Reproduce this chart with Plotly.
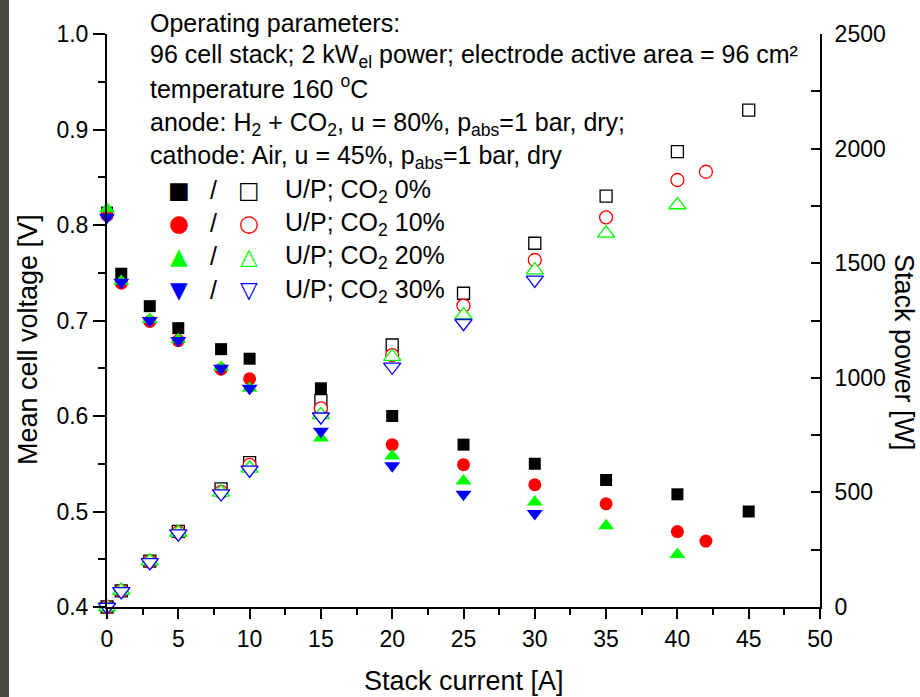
import plotly.graph_objects as go

# ---------------- data ----------------
current_co2_0 = [0, 1, 3, 5, 8, 10, 15, 20, 25, 30, 35, 40, 45]
voltage_co2_0 = [0.813, 0.749, 0.715, 0.692, 0.670, 0.660, 0.629, 0.600, 0.570, 0.550, 0.533, 0.518, 0.500]
power_co2_0 = [0, 70, 200, 330, 515, 630, 900, 1143, 1369, 1587, 1793, 1987, 2168]

current_co2_10 = [0, 1, 3, 5, 8, 10, 15, 20, 25, 30, 35, 40, 42]
voltage_co2_10 = [0.810, 0.739, 0.699, 0.679, 0.649, 0.639, 0.605, 0.570, 0.549, 0.528, 0.508, 0.479, 0.469]
power_co2_10 = [0, 70, 198, 325, 502, 620, 867, 1099, 1315, 1514, 1700, 1863, 1899]

current_co2_20 = [0, 1, 3, 5, 8, 10, 15, 20, 25, 30, 35, 40]
voltage_co2_20 = [0.817, 0.741, 0.701, 0.680, 0.651, 0.629, 0.577, 0.558, 0.532, 0.510, 0.485, 0.455]
power_co2_20 = [0, 72, 200, 325, 500, 605, 838, 1092, 1274, 1470, 1630, 1754]

current_co2_30 = [0, 1, 3, 5, 8, 10, 15, 20, 25, 30]
voltage_co2_30 = [0.808, 0.740, 0.700, 0.679, 0.650, 0.629, 0.584, 0.548, 0.518, 0.498]
power_co2_30 = [0, 68, 195, 320, 495, 598, 830, 1048, 1238, 1427]

series_names = ["0%", "10%", "20%", "30%"]
series_colors = ["#000000", "#ff0000", "#00ff00", "#0000ff"]
filled_symbols = ["square", "circle", "triangle-up", "triangle-down"]
filled_sizes = [12, 13, 14, 14]
open_sizes = [12, 13, 15, 15]
legend_filled_glyphs = ["\u25A0", "\u25CF", "\u25B2", "\u25BC"]
legend_open_glyphs = ["\u25A1", "\u25CB", "\u25B3", "\u25BD"]

x_ticks = [0, 5, 10, 15, 20, 25, 30, 35, 40, 45, 50]
y_ticks = [0.4, 0.5, 0.6, 0.7, 0.8, 0.9, 1.0]
y2_ticks = [0, 500, 1000, 1500, 2000, 2500]

currents = [current_co2_0, current_co2_10, current_co2_20, current_co2_30]
voltages = [voltage_co2_0, voltage_co2_10, voltage_co2_20, voltage_co2_30]
powers = [power_co2_0, power_co2_10, power_co2_20, power_co2_30]

FONT = "Liberation Sans, Arial, sans-serif"
W, H = 920, 697
ML, MR, MT, MB = 107, 100, 34, 90
PW, PH = W - ML - MR, H - MT - MB


def px(x):
    return (x - ML) / PW


def py(y):
    return (H - MB - y) / PH


fig = go.Figure()

# voltage (filled markers)
for i in range(4):
    fig.add_trace(go.Scatter(
        x=currents[i], y=voltages[i], mode="markers", yaxis="y",
        marker=dict(symbol=filled_symbols[i], size=filled_sizes[i],
                    color=series_colors[i], line=dict(width=0)),
        cliponaxis=False, showlegend=False))

# power (open markers, white fill)
for i in range(4):
    fig.add_trace(go.Scatter(
        x=currents[i], y=powers[i], mode="markers", yaxis="y2",
        marker=dict(symbol=filled_symbols[i], size=open_sizes[i],
                    color="white", line=dict(width=1.3, color=series_colors[i])),
        cliponaxis=False, showlegend=False))

ann = []
text_lines = [
    ("Operating parameters:", 23),
    ("96 cell stack; 2 kW<sub>el</sub> power; electrode active area = 96 cm²", 56),
    ("temperature 160 <sup>o</sup>C", 87),
    ("anode: H<sub>2</sub> + CO<sub>2</sub>, u = 80%, p<sub>abs</sub>=1 bar, dry;", 124),
    ("cathode: Air, u = 45%, p<sub>abs</sub>=1 bar, dry", 157),
]
for t, yc in text_lines:
    ann.append(dict(text=t, x=px(148), y=py(yc), xref="paper", yref="paper",
                    xanchor="left", yanchor="middle", showarrow=False,
                    font=dict(family=FONT, size=25, color="black")))

row_centers = [190, 223, 256, 290]
for i in range(4):
    yc = row_centers[i]
    ann.append(dict(text=legend_filled_glyphs[i], x=px(179), y=py(yc), xref="paper", yref="paper",
                    xanchor="center", yanchor="middle", showarrow=False,
                    font=dict(family="DejaVu Sans", size=23, color=series_colors[i])))
    ann.append(dict(text="/", x=px(213), y=py(yc), xref="paper", yref="paper",
                    xanchor="center", yanchor="middle", showarrow=False,
                    font=dict(family=FONT, size=25, color="black")))
    ann.append(dict(text=legend_open_glyphs[i], x=px(249), y=py(yc), xref="paper", yref="paper",
                    xanchor="center", yanchor="middle", showarrow=False,
                    font=dict(family="DejaVu Sans", size=23, color=series_colors[i])))
    ann.append(dict(text="U/P; CO<sub>2</sub> " + series_names[i], x=px(283), y=py(yc + 1),
                    xref="paper", yref="paper", xanchor="left", yanchor="middle", showarrow=False,
                    font=dict(family=FONT, size=25, color="black")))

# axis titles
ann.append(dict(text="Stack current [A]", x=px(464), y=py(681), xref="paper", yref="paper",
                xanchor="center", yanchor="middle", showarrow=False,
                font=dict(family=FONT, size=27, color="black")))
ann.append(dict(text="Mean cell voltage [V]", x=px(28), y=py(340), xref="paper", yref="paper",
                xanchor="center", yanchor="middle", showarrow=False, textangle=-90,
                font=dict(family=FONT, size=27, color="black")))
ann.append(dict(text="Stack power [W]", x=px(904), y=py(352), xref="paper", yref="paper",
                xanchor="center", yanchor="middle", showarrow=False, textangle=90,
                font=dict(family=FONT, size=27, color="black")))

axis_common = dict(showline=True, linewidth=2, linecolor="black", showgrid=False,
                   zeroline=False, tickwidth=2, tickcolor="black",
                   tickfont=dict(family=FONT, size=23, color="black"))

fig.update_layout(
    width=W, height=H, autosize=False,
    margin=dict(l=ML, r=MR, t=MT, b=MB, pad=0),
    paper_bgcolor="white", plot_bgcolor="white",
    xaxis=dict(range=[0, 50], tickvals=x_ticks, ticks="outside", ticklen=10,
               minor=dict(dtick=2.5, tick0=0, ticks="outside", ticklen=6, tickwidth=2, tickcolor="black"),
               **axis_common),
    yaxis=dict(range=[0.4, 1.0], tickvals=y_ticks, tickformat=".1f", ticks="outside", ticklen=12,
               minor=dict(dtick=0.05, tick0=0.4, ticks="outside", ticklen=7, tickwidth=2, tickcolor="black"),
               **axis_common),
    yaxis2=dict(range=[0, 2500], tickvals=y2_ticks, overlaying="y", side="right", ticks="inside",
                ticklen=9, ticklabelstandoff=8,
                minor=dict(dtick=250, tick0=0, ticks="inside", ticklen=9, tickwidth=2, tickcolor="black"),
                **axis_common),
    annotations=ann,
    shapes=[dict(type="rect", xref="paper", yref="paper", x0=px(0), x1=px(9), y0=py(697), y1=py(0),
                 fillcolor="#4a4a3e", line=dict(width=0), layer="below")],
)

fig.write_html("out.html", config={"displayModeBar": False},
               post_script="document.body.style.margin='0';document.body.style.overflow='hidden';")
